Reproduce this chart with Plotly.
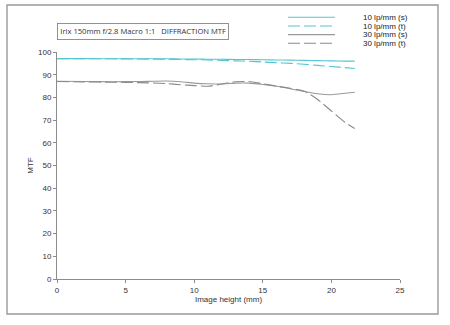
import plotly.graph_objects as go

# ---- data ----
image_height = [0, 2, 4, 6, 8, 9, 10, 11, 12, 13, 14, 15, 16, 17, 18, 19, 20, 21, 21.7]
mtf_10_s = [97.1, 97.1, 97.0, 97.0, 97.0, 96.9, 96.9, 96.8, 96.8, 96.7, 96.7, 96.6, 96.5, 96.4, 96.3, 96.2, 96.1, 96.0, 96.0]
mtf_10_t = [97.1, 97.0, 97.0, 96.9, 96.8, 96.7, 96.6, 96.5, 96.3, 96.1, 95.9, 95.6, 95.3, 95.0, 94.6, 94.1, 93.6, 93.1, 92.7]
mtf_30_s = [87.1, 87.0, 86.9, 87.0, 87.2, 86.9, 86.3, 86.0, 85.9, 86.3, 86.3, 85.7, 84.9, 83.8, 82.6, 81.6, 81.2, 81.8, 82.3]
mtf_30_t = [87.0, 86.8, 86.7, 86.5, 86.1, 85.6, 85.2, 84.9, 85.9, 86.9, 87.0, 86.0, 85.0, 84.0, 82.8, 79.1, 74.0, 69.0, 66.3]
series_names = ["10 lp/mm (s)", "10 lp/mm (t)", "30 lp/mm (s)", "30 lp/mm (t)"]
x_ticks = [0, 5, 10, 15, 20, 25]
y_ticks = [0, 10, 20, 30, 40, 50, 60, 70, 80, 90, 100]
chart_title = "Irix 150mm f/2.8 Macro 1:1   DIFFRACTION MTF"

# ---- styles ----
CYAN = "#55c6cf"
GREY_S = "#9a9a9a"
GREY_T = "#8a8a8a"
styles = [
    dict(color=CYAN, dash="solid"),
    dict(color=CYAN, dash="12px,4px"),
    dict(color=GREY_S, dash="solid"),
    dict(color=GREY_T, dash="12px,4px"),
]
values = [mtf_10_s, mtf_10_t, mtf_30_s, mtf_30_t]

W, H = 450, 325
L, R, T, B = 57, 50, 52, 46
PW, PH = W - L - R, H - T - B

def px(xp):
    return (xp - L) / PW

def py(yp):
    return (H - B - yp) / PH

fig = go.Figure()
for name, vals, st in zip(series_names, values, styles):
    fig.add_trace(go.Scatter(
        x=image_height, y=vals, mode="lines", name=name,
        line=dict(color=st["color"], dash=st["dash"], width=1.1, shape="spline", smoothing=0.6),
        showlegend=False, hoverinfo="skip",
    ))

font_fam = "Liberation Sans, Arial, sans-serif"
axis_common = dict(showgrid=False, zeroline=False, showline=True, linecolor="#8c8c8c",
                   linewidth=1, ticks="outside", ticklen=3, tickcolor="#8c8c8c",
                   tickfont=dict(family=font_fam, size=8, color="#333"))

shapes = [
    # outer frame
    dict(type="rect", xref="paper", yref="paper",
         x0=px(7), x1=px(438), y0=py(314), y1=py(5),
         line=dict(color="#999999", width=1.4), fillcolor="rgba(0,0,0,0)", layer="below"),
]
annotations = [
    dict(text=chart_title, xref="paper", yref="paper", x=px(142.7), y=py(32),
         xanchor="center", yanchor="middle", showarrow=False,
         font=dict(family="Open Sans, sans-serif", size=7.6, color="#333"),
         bordercolor="#777", borderwidth=0.8, borderpad=2.5, bgcolor="white"),
]
# legend drawn manually (compact rows as in the reference)
legend_rows = [17.3, 26.0, 34.6, 43.2]
for name, st, yp in zip(series_names, styles, legend_rows):
    shapes.append(dict(type="line", xref="paper", yref="paper",
                       x0=px(288), x1=px(335), y0=py(yp), y1=py(yp),
                       line=dict(color=st["color"], width=1.1, dash=st["dash"])))
    annotations.append(dict(text=name, xref="paper", yref="paper", x=px(361), y=py(yp),
                            xanchor="left", yanchor="middle", showarrow=False,
                            font=dict(family=font_fam, size=8, color="#222")))

fig.update_layout(
    width=W, height=H,
    margin=dict(l=L, r=R, t=T, b=B),
    paper_bgcolor="white", plot_bgcolor="white",
    xaxis=dict(range=[0, 25], tickvals=x_ticks, ticktext=[str(v) for v in x_ticks],
               title=dict(text="Image height (mm)", standoff=2,
                          font=dict(family=font_fam, size=8, color="#333")),
               **axis_common),
    yaxis=dict(range=[0, 100], tickvals=y_ticks, ticktext=[str(v) for v in y_ticks],
               title=dict(text="MTF", standoff=3,
                          font=dict(family=font_fam, size=8, color="#333")),
               **axis_common),
    # overlay axes providing the inner half of the crossing ticks
    xaxis2=dict(range=[0, 25], overlaying="x", anchor="y", side="bottom", tickvals=x_ticks,
                ticks="inside", ticklen=3, tickcolor="#8c8c8c", showticklabels=False,
                showline=False, showgrid=False, zeroline=False),
    yaxis2=dict(range=[0, 100], overlaying="y", anchor="x", side="left", tickvals=y_ticks,
                ticks="inside", ticklen=3, tickcolor="#8c8c8c", showticklabels=False,
                showline=False, showgrid=False, zeroline=False),
    shapes=shapes, annotations=annotations,
    showlegend=False,
)

fig.write_html("out.html")
